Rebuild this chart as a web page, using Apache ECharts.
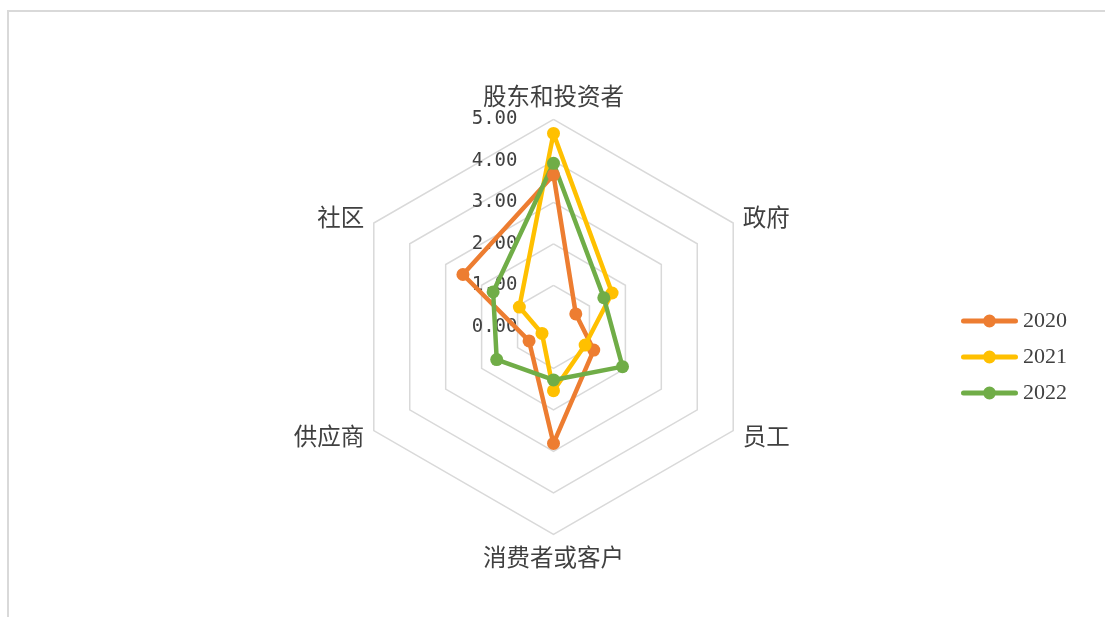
<!DOCTYPE html>
<html>
<head>
<meta charset="utf-8">
<script src="https://cdn.jsdelivr.net/npm/echarts@6/dist/echarts.min.js"></script>
<style>
html,body{margin:0;padding:0;background:#fff;}
#c{width:1105px;height:617px;}
</style>
</head>
<body>
<div id="c"></div>
<script>
// Indicators listed in ECharts drawing order (top, then counter-clockwise)
const categories = ['股东和投资者', '社区', '供应商', '消费者或客户', '员工', '政府'];
const seriesNames = ['2020', '2021', '2022'];
const values2020 = [3.66, 2.52, 0.68, 2.81, 1.12, 0.62];
const values2021 = [4.66, 0.95, 0.32, 1.54, 0.88, 1.63];
const values2022 = [3.94, 1.68, 1.58, 1.28, 1.92, 1.40];
const axisMin = 0, axisMax = 5, axisSplits = 5;
const colors = ['#ED7D31', '#FFC000', '#70AD47'];

const legendIcon = 'path://M2.5,3.5 L54.5,3.5 A2.5,2.5 0 0 1 54.5,8.5 L2.5,8.5 A2.5,2.5 0 0 1 2.5,3.5 Z M35,6 A6.5,6.5 0 1 1 22,6 A6.5,6.5 0 1 1 35,6 Z';

const chart = echarts.init(document.getElementById('c'));
const allValues = [values2020, values2021, values2022];

chart.setOption({
  animation: false,
  color: colors,
  graphic: [{
    type: 'rect',
    shape: {x: 8, y: 11, width: 1300, height: 800},
    style: {fill: 'none', stroke: '#D9D9D9', lineWidth: 2},
    silent: true
  }],
  legend: {
    orient: 'vertical',
    left: 956,
    top: 305,
    itemWidth: 57,
    itemHeight: 13,
    itemGap: 14,
    textStyle: {fontFamily: 'Liberation Serif', fontSize: 22, color: '#404040'},
    data: seriesNames.map(n => ({name: n, icon: legendIcon}))
  },
  radar: {
    center: [553.5, 326.8],
    radius: 207.5,
    shape: 'polygon',
    splitNumber: axisSplits,
    nameGap: 11,
    axisName: {fontFamily: 'Noto Sans CJK SC', fontSize: 23.5, color: '#404040'},
    axisLine: {show: false},
    axisTick: {show: false},
    axisLabel: {show: false},
    splitArea: {show: false},
    splitLine: {lineStyle: {color: '#D9D9D9', width: 1.5}},
    indicator: categories.map((c, i) => {
      const o = {name: c, min: axisMin, max: axisMax};
      if (i === 0) {
        o.axisLabel = {
          show: true,
          margin: 36,
          fontFamily: 'DejaVu Sans Mono',
          fontSize: 19,
          color: '#404040',
          formatter: v => Number(v).toFixed(2)
        };
      }
      return o;
    })
  },
  series: [{
    type: 'radar',
    symbol: 'circle',
    symbolSize: 13,
    data: allValues.map((vals, k) => ({
      name: seriesNames[k],
      value: vals,
      lineStyle: {width: 4.5, color: colors[k]},
      itemStyle: {color: colors[k]}
    }))
  }]
});
</script>
</body>
</html>
